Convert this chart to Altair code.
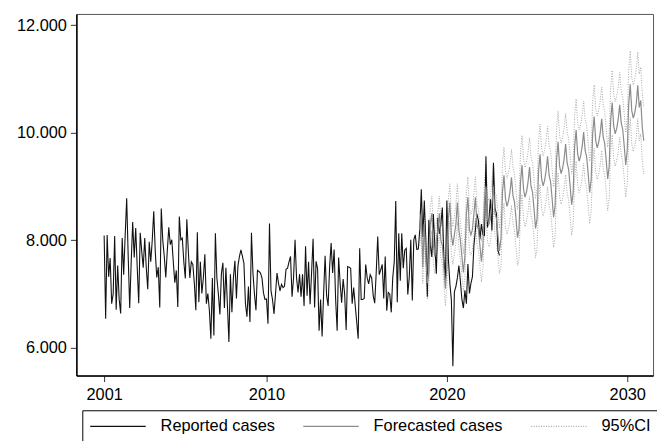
import altair as alt
import pandas as pd

# ---------------- data ----------------
REPORTED_START = 2001  # Jan 2001, monthly
reported = [
    8090, 6540, 8100, 7320, 7670, 6820, 7000, 8080, 6710, 7530, 6900, 6640,   # 2001
    8040, 7360, 8100, 8780, 7700, 6740, 7600, 8340, 7680, 8230, 7500, 6830,   # 2002
    8140, 7800, 7490, 8040, 7500, 7090, 7970, 7600, 8000, 8540, 7800, 7310,   # 2003
    7500, 6750, 8590, 8000, 7700, 7310, 7800, 8240, 7920, 8010, 7600, 7210,   # 2004
    7440, 6760, 8440, 8010, 8040, 7600, 7290, 8390, 7800, 7300, 7600, 7550,   # 2005
    7200, 6700, 8150, 6850, 7600, 7010, 7300, 7740, 6820, 7010, 6700, 6170,   # 2006
    7300, 6230, 8130, 7300, 7000, 6620, 7380, 7580, 6740, 7490, 6800, 6110,   # 2007
    7370, 6660, 7300, 7620, 6920, 7520, 7700, 7820, 7700, 7570, 6820, 6580,   # 2008
    7140, 6480, 8140, 7390, 7000, 6700, 7440, 7420, 7390, 7300, 7020, 6900,   # 2009
    6910, 6450, 8310, 7060, 6900, 6630, 7000, 7390, 7200, 7060, 7180, 7120,   # 2010
    7150, 7460, 7480, 7600, 7700, 6950, 7300, 8010, 7300, 7030, 7370, 6950,   # 2011
    7370, 6780, 7890, 6970, 7600, 6810, 7400, 8030, 6750, 7610, 7470, 6320,   # 2012
    6900, 6210, 7000, 7710, 6970, 6780, 7500, 7950, 7390, 7830, 6900, 6320,   # 2013
    7680, 7200, 6840, 7280, 7000, 6330, 7510, 7500, 7480, 6820, 7120, 6800,   # 2014
    6490, 6170, 7850, 6900, 6900, 6920, 7550, 7300, 7190, 7360, 7300, 6970,   # 2015
    6830, 7400, 8070, 7360, 7450, 7550, 6920, 7700, 6690, 7030, 7000, 6660,   # 2016
    7310, 7600, 8730, 6850, 8130, 7250, 8130, 7480, 7820, 7850, 6990, 7320,   # 2017
    8010, 6880, 8010, 8100, 7830, 7840, 8200, 8950, 8060, 8740, 8000, 6950,   # 2018
    8380, 7900, 7690, 8490, 7900, 7380, 8420, 8120, 8300, 8610, 7660, 7270,   # 2019
    8740, 7660, 7200, 6890, 5660, 7040, 7140, 7300, 7530, 7240, 6900, 6740,   # 2020
    7070, 6820, 7560, 7010, 7200, 7320, 7900, 8200, 8490, 8360, 8020, 8300,   # 2021
    8100, 8090, 9560, 8240, 8400, 8760, 8180, 9440, 8600, 8490, 7810, 7720,   # 2022
]

FORECAST_START = 2018 + 6 / 12  # Jul 2018, monthly
forecast = [
    8200, 8500, 7500, 8300, 7700, 7200,                                        # 2018 (Jul-Dec)
    7400, 8300, 8500, 7900, 7700, 8000, 8200, 8500, 8000, 7900, 7500, 7100,   # 2019
    7500, 8400, 8700, 8100, 7900, 8100, 8300, 8700, 8200, 8000, 7700, 7400,   # 2020
    7700, 8500, 8800, 8200, 8100, 8200, 8500, 8800, 8300, 8200, 7900, 7600,   # 2021
    7900, 8700, 9000, 8400, 8300, 8400, 8700, 9000, 8500, 8400, 8100, 7800,   # 2022
    8030, 8900, 9210, 8770, 8630, 8730, 8900, 9170, 8830, 8710, 8400, 8050,   # 2023
    8200, 9080, 9400, 8950, 8800, 8900, 9080, 9360, 9000, 8890, 8580, 8220,   # 2024
    8400, 9290, 9600, 9150, 9010, 9110, 9290, 9560, 9210, 9090, 8780, 8430,   # 2025
    8640, 9510, 9830, 9380, 9240, 9340, 9510, 9790, 9440, 9320, 9010, 8660,   # 2026
    8870, 9740, 10050, 9610, 9470, 9570, 9740, 10010, 9670, 9550, 9240, 8890, # 2027
    9120, 9990, 10300, 9860, 9720, 9820, 9990, 10260, 9920, 9800, 9490, 9140, # 2028
    9380, 10250, 10560, 10120, 9980, 10080, 10250, 10520, 10180, 10060, 9750, 9400,  # 2029
    9670, 10540, 10900, 10410, 10270, 10370, 10540, 10880, 10470, 10600, 10100, 9850, # 2030
]

ci_upper = [
    8500, 8800, 7800, 8600, 8000, 7500,
    7720, 8620, 8820, 8220, 8020, 8320, 8520, 8820, 8320, 8220, 7820, 7420,
    7850, 8750, 9050, 8450, 8250, 8450, 8650, 9050, 8550, 8350, 8050, 7750,
    8080, 8880, 9180, 8580, 8480, 8580, 8880, 9180, 8680, 8580, 8280, 7980,
    8320, 9120, 9420, 8820, 8720, 8820, 9120, 9420, 8920, 8820, 8520, 8220,
    8550, 9420, 9730, 9290, 9150, 9250, 9420, 9690, 9350, 9230, 8920, 8570,
    8750, 9630, 9950, 9500, 9350, 9450, 9630, 9910, 9550, 9440, 9130, 8770,
    8960, 9850, 10160, 9710, 9570, 9670, 9850, 10120, 9770, 9650, 9340, 8990,
    9210, 10080, 10400, 9950, 9810, 9910, 10080, 10360, 10010, 9890, 9580, 9230,
    9450, 10320, 10630, 10190, 10050, 10150, 10320, 10590, 10250, 10130, 9820, 9470,
    9710, 10580, 10890, 10450, 10310, 10410, 10580, 10850, 10510, 10390, 10080, 9730,
    9980, 10850, 11160, 10720, 10580, 10680, 10850, 11120, 10780, 10660, 10350, 10000,
    10290, 11160, 11520, 11030, 10890, 10990, 11160, 11500, 11090, 11220, 10720, 10470,
]

ci_lower = [
    7900, 8200, 7200, 8000, 7400, 6900,
    7080, 7980, 8180, 7580, 7380, 7680, 7880, 8180, 7680, 7580, 7180, 6780,
    7150, 8050, 8350, 7750, 7550, 7750, 7950, 8350, 7850, 7650, 7350, 7050,
    7320, 8120, 8420, 7820, 7720, 7820, 8120, 8420, 7920, 7820, 7520, 7220,
    7480, 8280, 8580, 7980, 7880, 7980, 8280, 8580, 8080, 7980, 7680, 7380,
    7510, 8380, 8690, 8250, 8110, 8210, 8380, 8650, 8310, 8190, 7880, 7530,
    7650, 8530, 8850, 8400, 8250, 8350, 8530, 8810, 8450, 8340, 8030, 7670,
    7840, 8730, 9040, 8590, 8450, 8550, 8730, 9000, 8650, 8530, 8220, 7870,
    8070, 8940, 9260, 8810, 8670, 8770, 8940, 9220, 8870, 8750, 8440, 8090,
    8290, 9160, 9470, 9030, 8890, 8990, 9160, 9430, 9090, 8970, 8660, 8310,
    8530, 9400, 9710, 9270, 9130, 9230, 9400, 9670, 9330, 9210, 8900, 8550,
    8780, 9650, 9960, 9520, 9380, 9480, 9650, 9920, 9580, 9460, 9150, 8800,
    9050, 9920, 10280, 9790, 9650, 9750, 9920, 10260, 9850, 9980, 9480, 9230,
]

series_names = ["Reported cases", "Forecasted cases", "95%CI"]
x_ticks = [2001, 2010, 2020, 2030]
y_ticks = [6000, 8000, 10000, 12000]

# ---------------- build tables ----------------
def frame(values, start, series, part):
    return pd.DataFrame({
        "t": [start + i / 12 for i in range(len(values))],
        "value": values,
        "series": series,
        "part": part,
    })

df_rep = frame(reported, REPORTED_START, "Reported cases", "rep")
df_fc = frame(forecast, FORECAST_START, "Forecasted cases", "fc")
df_ci = pd.concat([
    frame(ci_upper, FORECAST_START, "95%CI", "up"),
    frame(ci_lower, FORECAST_START, "95%CI", "lo"),
])

color_scale = alt.Scale(domain=series_names, range=["#111111", "#8c8c8c", "#a8a8a8"])
dash_scale = alt.Scale(domain=series_names, range=[[1, 0], [1, 0], [1, 1.5]])

legend = alt.Legend(
    title=None, orient="none", legendX=6, legendY=400, direction="horizontal",
    symbolType="M-1,0H6", symbolSize=256, symbolStrokeWidth=1.2,
    labelFontSize=16.5, labelFont="Liberation Sans", labelColor="black",
    labelOffset=54, columnPadding=25, padding=7, strokeColor="black",
)

x_enc = alt.X("t:Q", scale=alt.Scale(domain=[1999.46, 2031.43], nice=False, zero=False),
              axis=alt.Axis(values=x_ticks, format="d", title=None, labelPadding=5))
y_enc = alt.Y("value:Q", scale=alt.Scale(domain=[5484, 12208], nice=False, zero=False),
              axis=alt.Axis(values=y_ticks, title=None, labelPadding=4,
                            labelExpr="replace(format(datum.value, ','), ',', '.')"))

def layer(df, width):
    return alt.Chart(df).mark_line(strokeWidth=width, strokeCap="butt").encode(
        x=x_enc, y=y_enc,
        color=alt.Color("series:N", scale=color_scale, legend=legend),
        strokeDash=alt.StrokeDash("series:N", scale=dash_scale, legend=legend),
        detail="part:N",
    )

chart = alt.layer(
    layer(df_ci, 1.0),
    layer(df_rep, 1.1),
    layer(df_fc, 1.2),
).properties(
    width=582, height=365,
    autosize=alt.AutoSizeParams(type="none"),
    padding={"left": 69, "top": 4, "right": 4, "bottom": 64},
).configure_view(
    stroke="#555555", strokeWidth=1,
).configure_axis(
    grid=False, domainColor="black", domainWidth=1.5, tickColor="#333333",
    tickSize=6, labelFontSize=16.5, labelFont="Liberation Sans",
    labelColor="black",
)

chart.save("out.html", embed_options={"renderer": "svg", "actions": False})
